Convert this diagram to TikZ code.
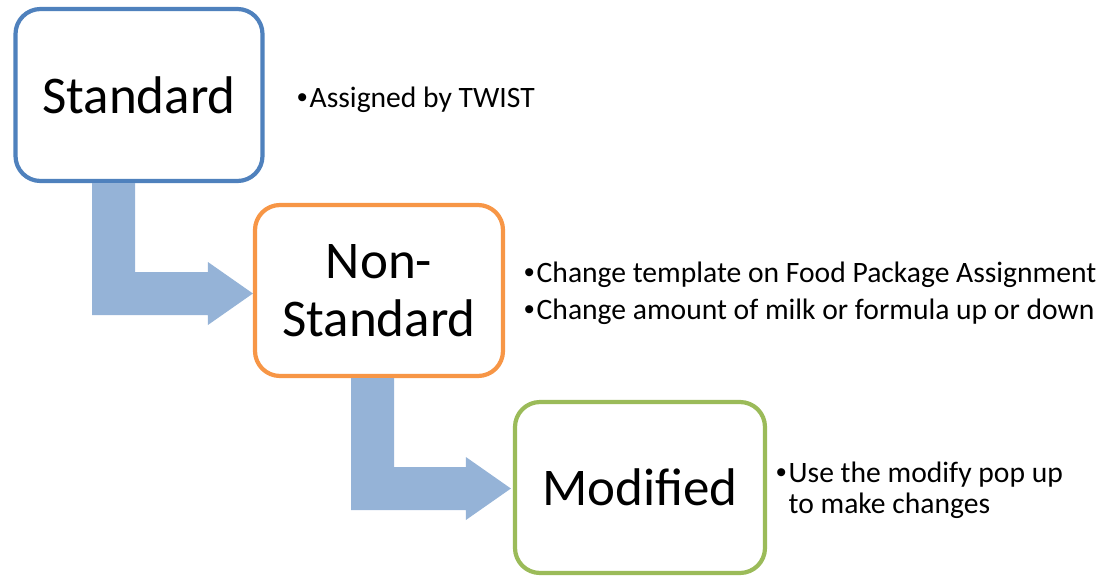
\documentclass[tikz,border=0pt]{standalone}
\usepackage{fontspec}
\setmainfont{Carlito}
\newfontfamily\bulletfont{Liberation Sans}
\usetikzlibrary{calc}

\definecolor{stdblue}{HTML}{4F81BD}
\definecolor{nsorange}{HTML}{F79646}
\definecolor{modgreen}{HTML}{9BBB59}
\definecolor{flowblue}{HTML}{95B3D7}

\tikzset{
  stage/.style={draw, line width=4.2pt, rounded corners=25pt, fill=white,
    align=center, inner sep=0pt, font=\fontsize{53}{58}\selectfont},
  note/.style={anchor=base west, inner sep=0pt,
    font=\fontsize{29.6}{35}\selectfont},
  flow/.style={fill=flowblue, draw=none},
}

% bullet with a fixed hanging indent
\newcommand\itm{\makebox[12.5pt][l]{\bulletfont •}}

% bent block arrow: #1 = top-left corner of the shaft, #2 = arrow tip
\newcommand\bentflow[2]{%
  \fill[flow] let \p1=(#1), \p2=(#2) in
    (\x1,\y1) -- (\x1+43pt,\y1) -- (\x1+43pt,\y2+21.5pt)
    -- (\x2-45pt,\y2+21.5pt) -- (\x2-45pt,\y2+31.5pt) -- (\x2,\y2)
    -- (\x2-45pt,\y2-31.5pt) -- (\x2-45pt,\y2-21.5pt)
    -- (\x1,\y2-21.5pt) -- cycle;}

\begin{document}
\begin{tikzpicture}[x=1pt, y=-1pt]
  \useasboundingbox (0,0) rectangle (1110,579);

  % stages
  \node[stage, draw=stdblue, minimum width=247pt, minimum height=172pt]
    (std) at (139,95) {Standard};
  \node[stage, draw=nsorange, minimum width=248pt, minimum height=171pt]
    (ns) at (379,290.5) {Non-\\Standard};
  \node[stage, draw=modgreen, minimum width=250pt, minimum height=171pt]
    (mod) at (640,487.5) {Modified};

  % flow arrows between the stages
  \coordinate (a1) at ($(std.south)+(-47,0)$);
  \coordinate (t1) at ($(ns.west)+(0,3)$);
  \bentflow{a1}{t1}
  \coordinate (a2) at ($(ns.south)+(-28,0)$);
  \coordinate (t2) at ($(mod.west)+(-2,1)$);
  \bentflow{a2}{t2}

  % notes
  \node[note] (n1) at (297,107) {\itm Assigned by TWIST};
  \node[note] (n2) at (524,282) {\itm Change template on Food Package Assignment};
  \node[note] (n3) at (524,319) {\itm Change amount of milk or formula up or down};
  \node[note] (n4) at (776,482) {\itm Use the modify pop up};
  \node[note] (n5) at (776,513) {\hspace*{12.5pt}to make changes};
\end{tikzpicture}
\end{document}
